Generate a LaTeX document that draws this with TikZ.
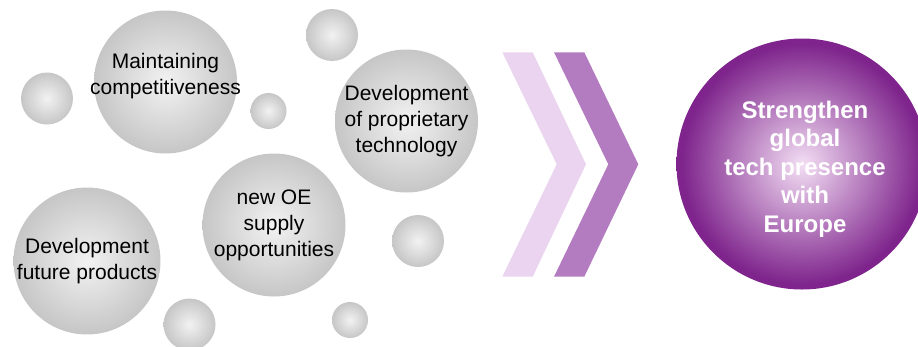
\documentclass[tikz,border=0pt]{standalone}
\usepackage{fontspec}
\setmainfont{Liberation Sans}
\definecolor{bubblein}{HTML}{F2F2F2}
\definecolor{bubbleout}{HTML}{C6C6C6}
\definecolor{goalin}{HTML}{F3DEF4}
\definecolor{goalout}{HTML}{7E248C}
\definecolor{chevlight}{HTML}{EBD4EF}
\definecolor{chevdark}{HTML}{B47CC0}
\pgfdeclareradialshading{bubbleshade}{\pgfpoint{0bp}{0bp}}{color(0bp)=(bubblein); color(25bp)=(bubbleout); color(50bp)=(bubbleout)}
\pgfdeclareradialshading{goalshade}{\pgfpoint{0bp}{0bp}}{color(0bp)=(goalin); color(24bp)=(goalout); color(50bp)=(goalout)}
\tikzset{
  bubble/.style={circle, shading=bubbleshade, inner sep=0pt, align=center,
    font=\fontsize{21}{26}\selectfont},
  bigbubble/.style={bubble, minimum size=143pt},
  midbubble/.style={bubble, minimum size=52pt},
  tinybubble/.style={bubble, minimum size=36pt},
  goal/.style={circle, shading=goalshade, inner sep=0pt, minimum size=251pt},
  goaltext/.style={text=white, align=center, font=\fontsize{24}{28.6}\selectfont\bfseries}
}
\begin{document}
\begin{tikzpicture}[x=1pt, y=-1pt]
  \useasboundingbox (0,0) rectangle (918,346);
  \clip (0,0) rectangle (918,346);

  % the bubbles
  \node[bigbubble] (maint) at (165.5,82) {};
  \node[font=\fontsize{21}{26}\selectfont, align=center] (mainttext) at ([yshift=6pt]maint.center) {Maintaining\\competitiveness};
  \node[bigbubble] (proprietary) at (406.5,121) {Development\\of proprietary\\technology};
  \node[bigbubble] (supply) at (274,225) {new OE\\supply\\opportunities};
  \node[bigbubble] (future) at (87,261) {Development\\future products};

  \node[midbubble] (b1) at (47,98.5) {};
  \node[midbubble] (b2) at (332,35) {};
  \node[midbubble] (b3) at (418,241) {};
  \node[midbubble] (b4) at (189.5,324.5) {};
  \node[tinybubble] (b5) at (268.5,111) {};
  \node[tinybubble] (b6) at (350,320) {};

  % the chevrons
  \fill[chevlight] (502.3,52.3) -- (532.7,52.3) -- (586,164.3) -- (532.7,276.7)
    -- (502.3,276.7) -- (556.7,164.3) -- cycle;
  \fill[chevdark] (554,52.3) -- (584.3,52.3) -- (638.3,164.3) -- (584.3,276.7)
    -- (554,276.7) -- (608.3,164.3) -- cycle;

  % the goal
  \node[goal] (goal) at (802,164) {};
  \node[goaltext] (goaltxt) at ([shift={(3pt,-5pt)}]goal.center) {Strengthen\\global\\tech presence\\with\\Europe};
\end{tikzpicture}
\end{document}
